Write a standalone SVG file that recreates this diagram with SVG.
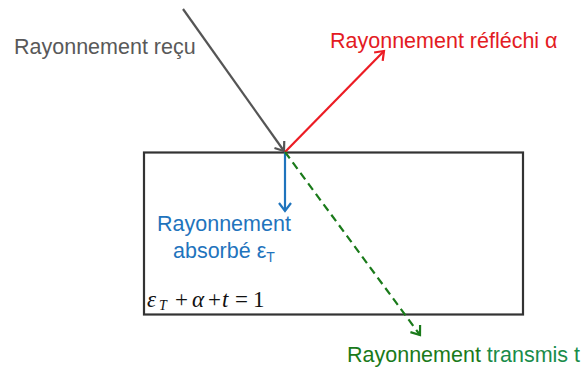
<svg xmlns="http://www.w3.org/2000/svg" width="585" height="367" viewBox="0 0 585 367">
<style>
.lbl{font-family:"Liberation Sans",Arial,sans-serif;font-size:21.5px}
.ray{fill:none;stroke-width:2.2}
.eq{font-family:"Liberation Serif","Times New Roman",serif;font-size:23px;fill:#111}
.it{font-style:italic}
</style>
<defs>
<marker id="mg" markerUnits="userSpaceOnUse" markerWidth="20" markerHeight="20" refX="10" refY="10" orient="auto" overflow="visible"><path d="M2,4 L10,10 L2,16" fill="none" stroke="#555" stroke-width="2.2"/></marker>
<marker id="mr" markerUnits="userSpaceOnUse" markerWidth="20" markerHeight="20" refX="10" refY="10" orient="auto" overflow="visible"><path d="M2,4 L10,10 L2,16" fill="none" stroke="#ec1c24" stroke-width="2.2"/></marker>
<marker id="mb" markerUnits="userSpaceOnUse" markerWidth="20" markerHeight="20" refX="10" refY="10" orient="auto" overflow="visible"><path d="M2,4 L10,10 L2,16" fill="none" stroke="#1f74bd" stroke-width="2.2"/></marker>
<marker id="mgr" markerUnits="userSpaceOnUse" markerWidth="20" markerHeight="20" refX="10" refY="10" orient="auto" overflow="visible"><path d="M2,4 L10,10 L2,16" fill="none" stroke="#1a7a1a" stroke-width="2.2"/></marker>
</defs>
<rect width="585" height="367" fill="#fff"/>
<g id="body">
<rect x="144" y="152.5" width="379" height="162" fill="none" stroke="#333" stroke-width="2.2"/>
</g>
<g id="connectors">
<line class="ray" x1="183" y1="9" x2="284" y2="151" stroke="#555" marker-end="url(#mg)"/>
<line class="ray" x1="285" y1="152" x2="384" y2="51" stroke="#ec1c24" marker-end="url(#mr)"/>
<line class="ray" x1="285" y1="152" x2="285" y2="211" stroke="#1f74bd" marker-end="url(#mb)"/>
<line class="ray" x1="285" y1="152" x2="420" y2="335" stroke="#1a7a1a" stroke-dasharray="8 5" marker-end="url(#mgr)"/>
</g>
<g id="recu">
<text class="lbl" x="14" y="54" fill="#595959">Rayonnement reçu</text>
</g>
<g id="reflechi">
<text class="lbl" x="330" y="48" fill="#e31b23">Rayonnement réfléchi α</text>
</g>
<g id="absorbe">
<text class="lbl" x="157" y="231" fill="#1f74bd">Rayonnement</text>
<text class="lbl" x="173" y="258" fill="#1f74bd">absorbé ε<tspan font-size="14" dy="4">T</tspan></text>
</g>
<g id="equation">
<text class="eq" y="307"><tspan class="it" x="147">ε</tspan><tspan class="it" x="159" y="310" font-size="14">T</tspan><tspan x="175" y="307">+</tspan><tspan class="it" x="192">α</tspan><tspan x="208">+</tspan><tspan class="it" x="222">t</tspan><tspan x="235">=</tspan><tspan x="253">1</tspan></text>
</g>
<g id="transmis">
<text class="lbl" x="347" y="362" fill="#1a7a1a">Rayonnement <tspan fill="#1a8c4a">transmis t</tspan></text>
</g>
</svg>
